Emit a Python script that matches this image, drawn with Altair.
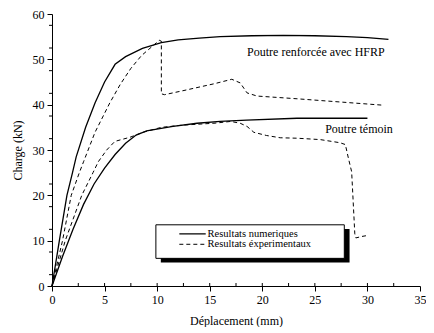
import altair as alt
import pandas as pd

# ---- data ----
hfrp_num_x = [0, 0.7, 1.42, 1.95, 2.3, 3.2, 4.1, 5.0, 6.0, 7.0, 8.6, 10.4, 12.0, 14.0, 16.0, 19.0, 22.0, 25.0, 28.0, 30.0, 32.0]
hfrp_num_y = [0, 10, 20, 25, 28.5, 35, 40.4, 45, 48.9, 50.6, 52.4, 53.7, 54.3, 54.7, 55.0, 55.2, 55.3, 55.2, 55.0, 54.8, 54.4]

hfrp_exp_x = [0, 1.0, 1.83, 2.6, 3.0, 4.09, 5.5, 6.5, 7.5, 8.5, 9.5, 10.2, 10.4, 10.4, 10.7, 12.3, 15.4, 17.1, 17.9, 18.55, 19.5, 23.3, 31.4]
hfrp_exp_y = [0, 10, 20, 25, 27.4, 33.9, 40.4, 44.5, 48.0, 50.8, 52.8, 54.2, 54.0, 42.4, 42.2, 43.0, 44.6, 45.6, 44.8, 42.6, 41.9, 41.3, 39.9]

temoin_num_x = [0, 1, 2, 3, 4, 5, 6, 7, 8, 9, 11.5, 13.8, 16.0, 18.5, 23.3, 30.0]
temoin_num_y = [0, 6.5, 12.5, 18, 22.5, 26, 29, 31.5, 33.3, 34.2, 35.2, 35.9, 36.3, 36.6, 37.0, 37.0]

temoin_exp_x = [0, 1.26, 2.83, 3.9, 4.4, 5.2, 5.98, 7.4, 8.65, 10.4, 12.5, 15.4, 17.0, 17.9, 18.55, 19.2, 20.4, 21.7, 23.3, 25.5, 27.4, 27.9, 28.2, 28.5, 28.8, 28.9, 29.4, 29.9]
temoin_exp_y = [0, 10, 20, 25, 27.4, 30, 31.9, 32.8, 33.9, 35.0, 35.5, 35.9, 36.3, 35.9, 35.2, 33.9, 33.2, 32.7, 32.6, 32.3, 31.6, 31.2, 28.1, 25.2, 11.5, 10.6, 10.9, 11.1]

x_ticks = [0, 5, 10, 15, 20, 25, 30, 35]
y_ticks = [0, 5, 10, 15, 20, 25, 30, 35, 40, 45, 50, 55, 60]
x_minor = [2.5, 5, 7.5, 10, 12.5, 15, 17.5, 20, 22.5, 25, 27.5, 30, 32.5]
y_minor = [2.5, 7.5, 12.5, 17.5, 22.5, 27.5, 32.5, 37.5, 42.5, 47.5, 52.5, 57.5]

labels = ["Poutre renforcée avec HFRP", "Poutre témoin"]
label_x = [25.1, 29.2]
label_y = [51.6, 34.7]

legend_labels = ["Resultats numeriques", "Resultats éxperimentaux"]
legend_y = [11.5, 9.2]
legend_line_x = [12.11, 14.62]
legend_text_x = 14.8
legend_box = dict(x=9.88, x2=27.8, y=13.5, y2=6.1)
legend_shadow = dict(x=10.35, x2=28.3, y=12.6, y2=5.2)

FONT = "Liberation Serif"
W, H = 368, 272


def frame(name, xs, ys):
    return pd.DataFrame({"series": name, "x": xs, "y": ys, "i": range(len(xs))})


num_df = pd.concat([frame("hfrp", hfrp_num_x, hfrp_num_y), frame("temoin", temoin_num_x, temoin_num_y)])
exp_df = pd.concat([frame("hfrp", hfrp_exp_x, hfrp_exp_y), frame("temoin", temoin_exp_x, temoin_exp_y)])

xs = alt.Scale(domain=[0, 35], nice=False, zero=False)
ys = alt.Scale(domain=[0, 60], nice=False, zero=False)

x_enc = alt.X("x:Q", scale=xs, title="Déplacement (mm)",
              axis=alt.Axis(values=x_ticks, tickSize=5, labelPadding=3, titlePadding=10, labelFlush=False))
y_enc = alt.Y("y:Q", scale=ys, title="Charge (kN)",
              axis=alt.Axis(values=y_ticks, tickSize=5, labelPadding=3, titlePadding=8))

num_lines = alt.Chart(num_df).mark_line(color="black", strokeWidth=1.3).encode(
    x=x_enc, y=y_enc, detail="series:N", order="i:Q")
exp_lines = alt.Chart(exp_df).mark_line(color="black", strokeWidth=1.0, strokeDash=[4, 3]).encode(
    x="x:Q", y="y:Q", detail="series:N", order="i:Q")

xmin_df = pd.DataFrame({"x": x_minor})
ymin_df = pd.DataFrame({"y": y_minor})
x_minor_ticks = alt.Chart(xmin_df).mark_rule(color="black", strokeWidth=1).encode(
    x="x:Q", y=alt.value(H), y2=alt.value(H - 3))
y_minor_ticks = alt.Chart(ymin_df).mark_rule(color="black", strokeWidth=1).encode(
    y="y:Q", x=alt.value(-3), x2=alt.value(0))

lab_df = pd.DataFrame({"t": labels, "x": label_x, "y": label_y})
annot = alt.Chart(lab_df).mark_text(font=FONT, fontSize=12, color="black", align="center", baseline="middle").encode(
    x="x:Q", y="y:Q", text="t:N")

shadow = alt.Chart(pd.DataFrame([legend_shadow])).mark_rect(color="black").encode(
    x="x:Q", x2="x2", y="y:Q", y2="y2")
box = alt.Chart(pd.DataFrame([legend_box])).mark_rect(fill="white", stroke="black", strokeWidth=1).encode(
    x="x:Q", x2="x2", y="y:Q", y2="y2")

leg_df = pd.DataFrame({"t": legend_labels, "y": legend_y, "x": legend_line_x[0], "x2": legend_line_x[1],
                       "tx": legend_text_x, "kind": ["num", "exp"]})
leg_lines = alt.Chart(leg_df).mark_rule(color="black").encode(
    x="x:Q", x2="x2", y="y:Q",
    strokeDash=alt.StrokeDash("kind:N", scale=alt.Scale(domain=["num", "exp"], range=[[1, 0], [4, 3]]), legend=None),
    strokeWidth=alt.StrokeWidth("kind:N", scale=alt.Scale(domain=["num", "exp"], range=[1.3, 1.0]), legend=None))
leg_text = alt.Chart(leg_df).mark_text(font=FONT, fontSize=10.5, color="black", align="left", baseline="middle").encode(
    x="tx:Q", y="y:Q", text="t:N")

chart = alt.layer(
    num_lines, exp_lines, x_minor_ticks, y_minor_ticks, annot, shadow, box, leg_lines, leg_text
).properties(
    width=W, height=H,
    autosize=alt.AutoSizeParams(type="none"),
    padding={"left": 44, "top": 6, "right": 6, "bottom": 41},
    background="white",
).configure_view(stroke=None).configure_axis(
    grid=False, domainColor="black", tickColor="black", domainWidth=1, tickWidth=1,
    labelFont=FONT, labelFontSize=12, labelColor="black",
    titleFont=FONT, titleFontSize=12, titleFontWeight="normal", titleColor="black",
)

chart.save("out.html", embed_options={"renderer": "svg", "actions": False})
